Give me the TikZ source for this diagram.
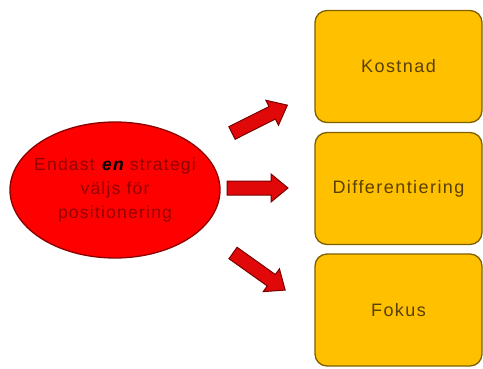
\documentclass[tikz,border=0pt]{standalone}
\usepackage{fontspec}
\setmainfont{Liberation Sans}
\newfontfamily\boxfont[LetterSpace=8]{Liberation Sans}
\newfontfamily\elfont[LetterSpace=7]{Liberation Sans}
\usetikzlibrary{shapes.geometric}
\definecolor{elred}{HTML}{FF0000}
\definecolor{eledge}{HTML}{8A0000}
\definecolor{eltext}{HTML}{930000}
\definecolor{arrfill}{HTML}{E00808}
\definecolor{arredge}{HTML}{7A0000}
\definecolor{boxfill}{HTML}{FFC000}
\definecolor{boxedge}{HTML}{7F6000}
\definecolor{boxtext}{HTML}{5A4000}
\tikzset{
  strat/.style={draw=boxedge, line width=1.3pt, fill=boxfill, rounded corners=12pt,
    minimum width=167pt, minimum height=112pt, inner sep=0pt,
    text=boxtext, font=\boxfont\fontsize{18}{22}\selectfont},
  center/.style={ellipse, draw=eledge, line width=1.3pt, fill=elred,
    minimum width=210pt, minimum height=136pt, inner sep=0pt},
  centertext/.style={align=center, inner sep=0pt,
    text=eltext, font=\elfont\fontsize{17.5}{24}\selectfont},
  blockarr/.style={draw=arredge, line width=1pt, fill=arrfill, line join=miter}
}
\newcommand\blockarrow[4]{% tail, angle, length, name
  \begin{scope}[shift={#1}, rotate=#2]
    \coordinate (#4-tail) at (0,0);
    \coordinate (#4-tip) at (#3pt,0);
    \draw[blockarr] (0,-7) -- ({#3-17},-7) -- ({#3-17},-14) -- (#3,0)
      -- ({#3-17},14) -- ({#3-17},7) -- (0,7) -- cycle;
  \end{scope}}
\begin{document}
\begin{tikzpicture}[x=1pt,y=1pt]
  \useasboundingbox[fill=white] (0,0) rectangle (483,-368);
  \node[center] (e) at (115,-190) {};
  \node[centertext] (et) at (e.center) {Endast \textbf{\textit{\color{black}en}} strategi\\väljs för\\positionering};
  \node[strat] (k) at (398.5,-66.5) {Kostnad};
  \node[strat] (d) at (398.5,-188.5) {Differentiering};
  \node[strat] (f) at (398.5,-310) {Fokus};
  \blockarrow{(232,-133)}{26.7}{62}{a1}
  \blockarrow{(227,-188)}{0}{61}{a2}
  \blockarrow{(233,-253)}{-35.4}{64}{a3}
\end{tikzpicture}
\end{document}
